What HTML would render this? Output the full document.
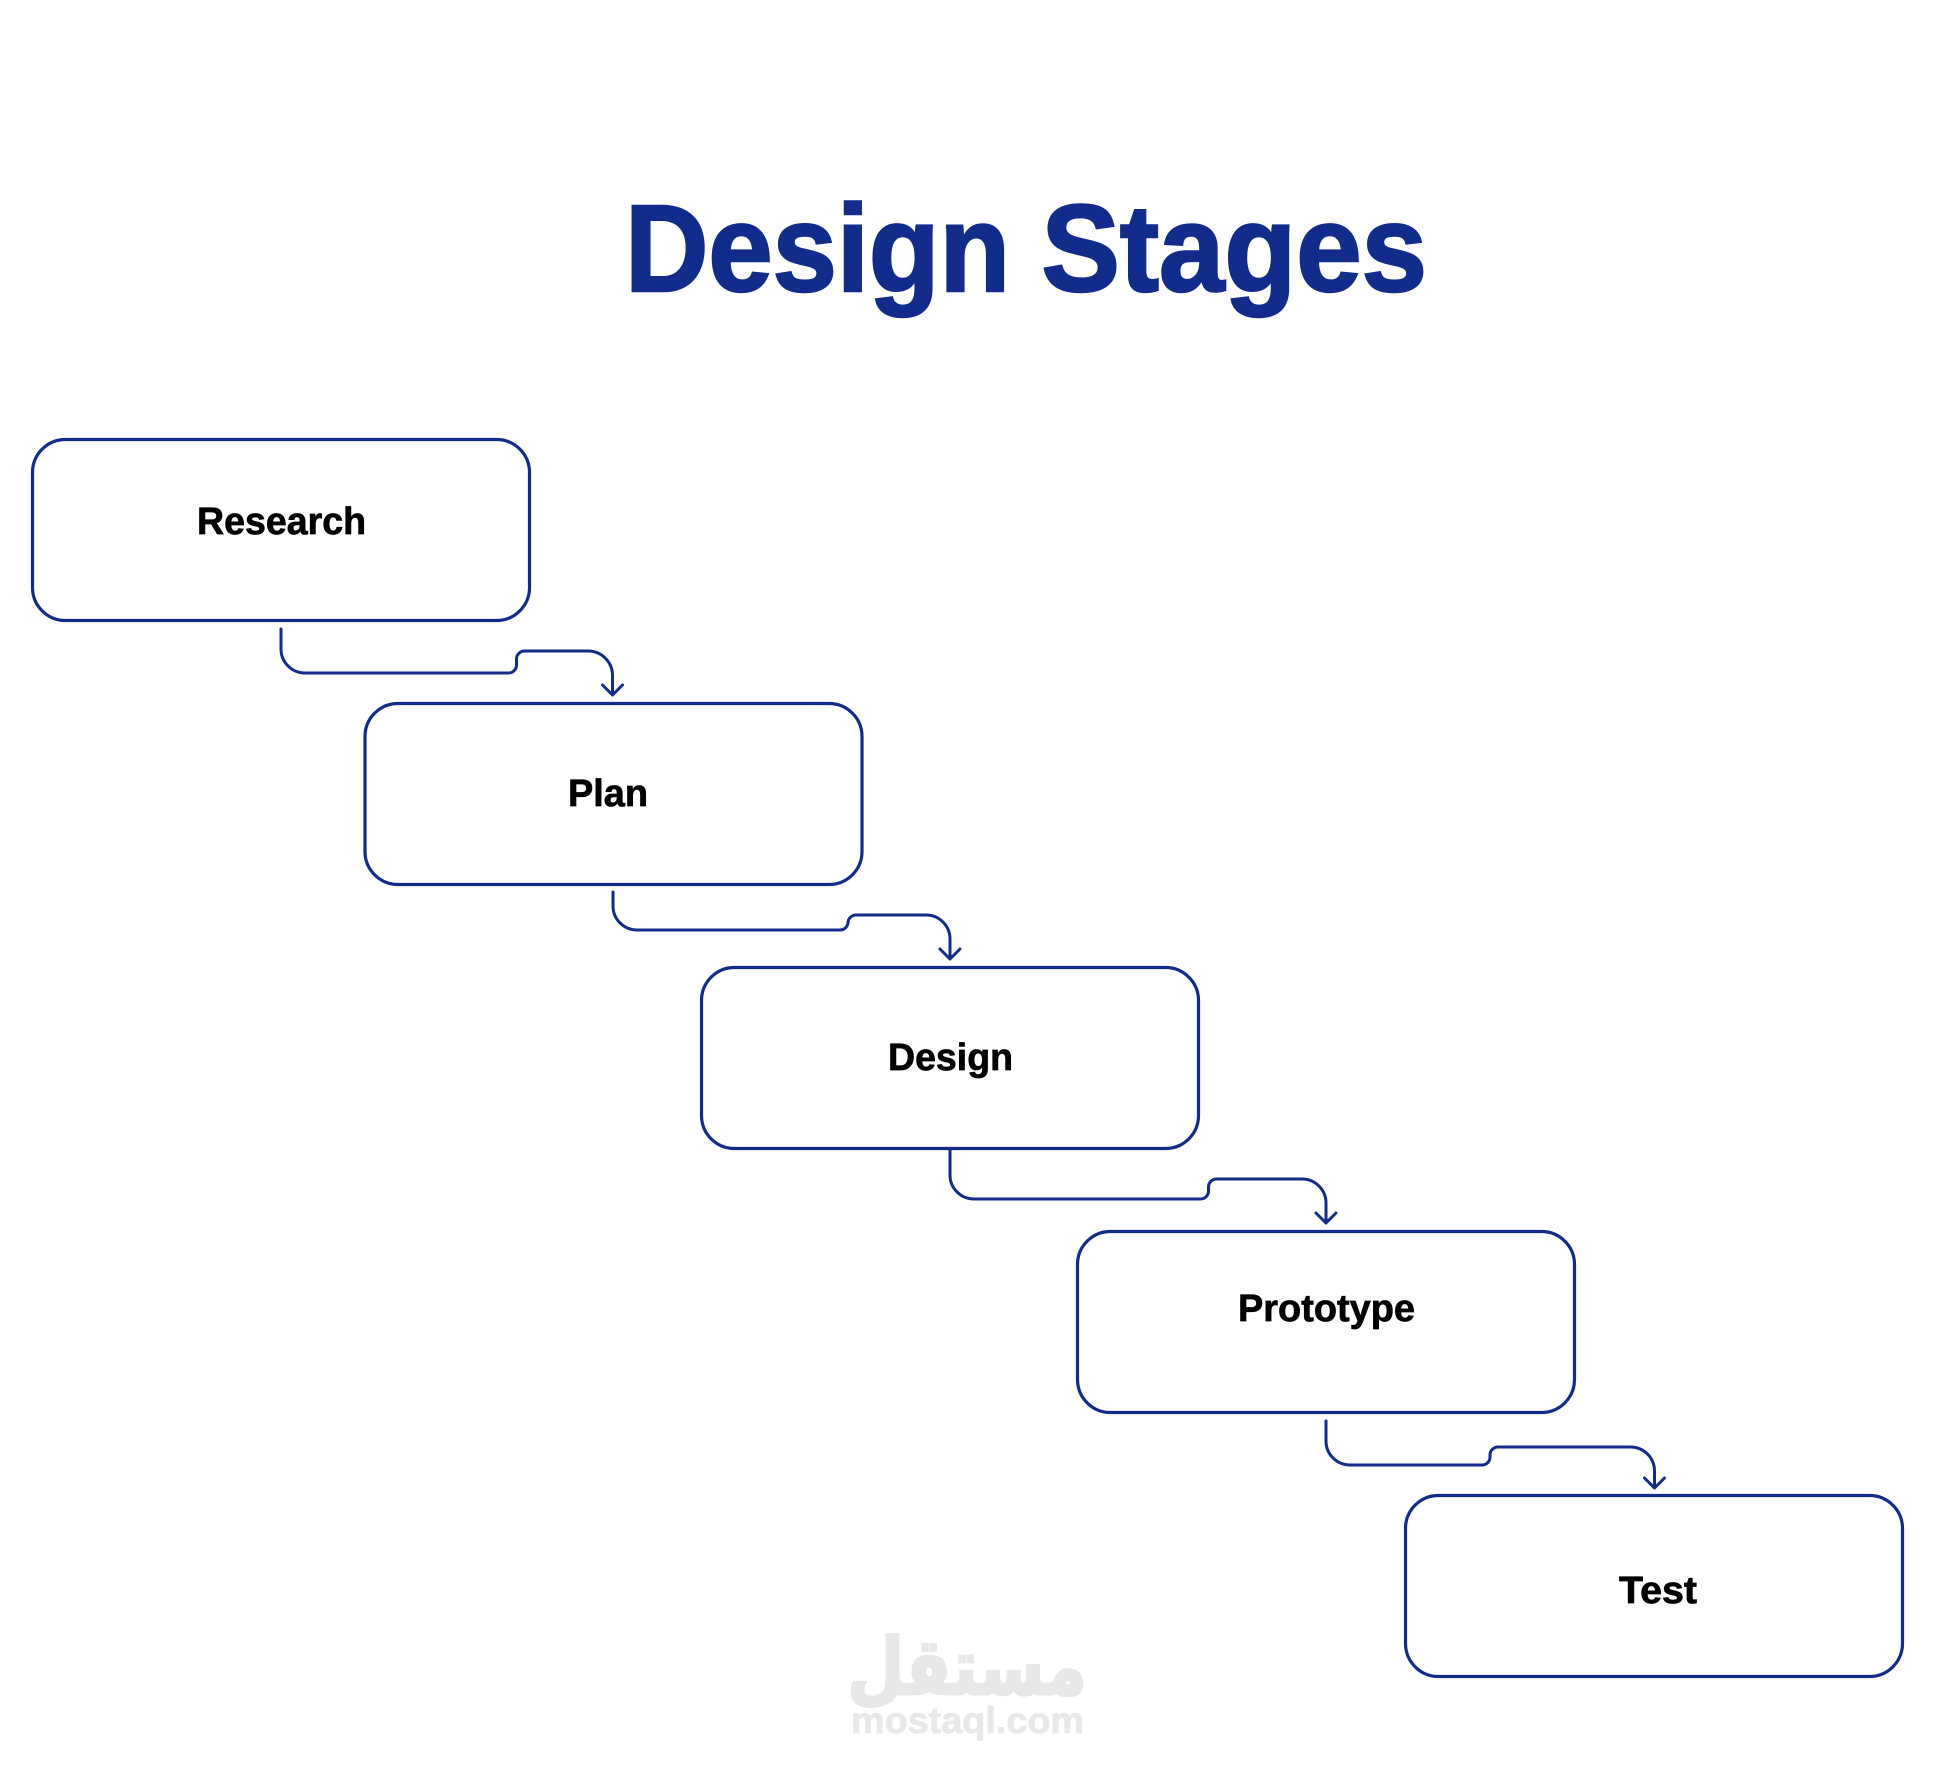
<!DOCTYPE html>
<html>
<head>
<meta charset="utf-8">
<style>
html,body{margin:0;padding:0;background:#fff;width:1935px;height:1777px;overflow:hidden}
svg{display:block}
text{font-family:"Liberation Sans",sans-serif;font-weight:700}
.b{fill:#fff;stroke:#122c8c;stroke-width:3.2}
.c{fill:none;stroke:#122c8c;stroke-width:3;stroke-linecap:round;stroke-linejoin:round}
.l{font-size:38px;fill:#000;stroke:#000;stroke-width:.7}
.t{font-size:123px;fill:#122c8c;stroke:#122c8c;stroke-width:2.5}
</style>
</head>
<body>
<svg width="1935" height="1777" viewBox="0 0 1935 1777" xmlns="http://www.w3.org/2000/svg">
<text class="t" x="625" y="291" textLength="385" lengthAdjust="spacingAndGlyphs">Design</text>
<text class="t" x="1041.500" y="291" textLength="385.500" lengthAdjust="spacingAndGlyphs">Stages</text>

<rect class="b" x="32.5" y="439.5" width="497" height="181" rx="33" ry="33"/>
<rect class="b" x="365" y="703.5" width="497" height="181" rx="33" ry="33"/>
<rect class="b" x="701.5" y="967.5" width="497" height="181" rx="33" ry="33"/>
<rect class="b" x="1077.5" y="1231.5" width="497" height="181" rx="33" ry="33"/>
<rect class="b" x="1405.5" y="1495.5" width="497" height="181" rx="33" ry="33"/>

<text class="l" x="197" y="534" textLength="169" lengthAdjust="spacingAndGlyphs">Research</text>
<text class="l" x="568" y="806" textLength="80" lengthAdjust="spacingAndGlyphs">Plan</text>
<text class="l" x="888" y="1070" textLength="125" lengthAdjust="spacingAndGlyphs">Design</text>
<text class="l" x="1238" y="1321" textLength="177" lengthAdjust="spacingAndGlyphs">Prototype</text>
<text class="l" x="1619" y="1603" textLength="78" lengthAdjust="spacingAndGlyphs">Test</text>

<path class="c" d="M281 629V649A24 24 0 0 0 305 673H508A8 8 0 0 0 516.500 665V659A8 8 0 0 1 525 651H588A24.500 24.500 0 0 1 612.500 675.500V695M602.500 685L612.500 695L622.500 685"/>
<path class="c" d="M613 892V906A24 24 0 0 0 637 930H840A8 8 0 0 0 848 922V923A8 8 0 0 1 856 915H926A24 24 0 0 1 950 939V959M940 949L950 959L960 949"/>
<path class="c" d="M950 1149V1175A24 24 0 0 0 974 1199H1200A8 8 0 0 0 1208.500 1191V1187A8 8 0 0 1 1216.500 1179H1302A24 24 0 0 1 1326 1203V1223M1316 1213L1326 1223L1336 1213"/>
<path class="c" d="M1326 1421V1441A24 24 0 0 0 1350 1465H1482A8 8 0 0 0 1490 1457V1455A8 8 0 0 1 1498 1447H1630A24 24 0 0 1 1654.500 1471V1488M1644.500 1478L1654.500 1488L1664.500 1478"/>

<text transform="translate(967 1694) scale(.84 1)" text-anchor="middle" font-size="78" fill="#e8e8e8" stroke="#e8e8e8" stroke-width="3" style="font-family:'DejaVu Sans',sans-serif" direction="rtl">مستقل</text>
<text x="851" y="1733" font-size="37" fill="#e8e8e8" stroke="#e8e8e8" stroke-width=".8" textLength="233" lengthAdjust="spacingAndGlyphs">mostaql.com</text>
</svg>
</body>
</html>
